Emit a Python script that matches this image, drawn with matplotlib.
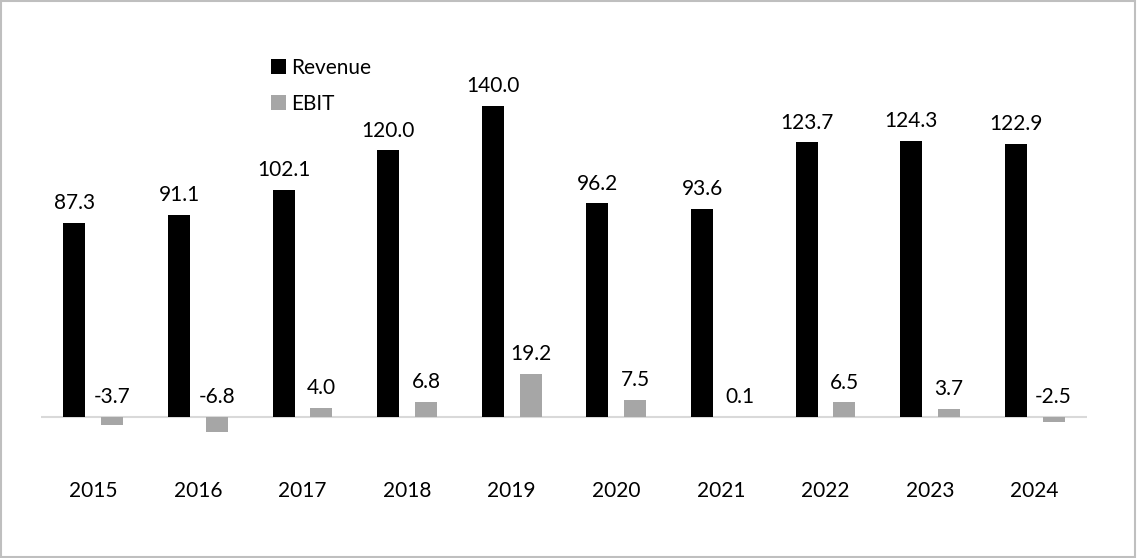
import numpy as np
import matplotlib.pyplot as plt
from matplotlib.patches import Rectangle

plt.rcParams['font.family'] = ['Lato', 'DejaVu Sans']

years = ['2015', '2016', '2017', '2018', '2019', '2020', '2021', '2022', '2023', '2024']
revenue = [87.3, 91.1, 102.1, 120.0, 140.0, 96.2, 93.6, 123.7, 124.3, 122.9]
ebit = [-3.7, -6.8, 4.0, 6.8, 19.2, 7.5, 0.1, 6.5, 3.7, -2.5]

W, H = 1137, 558
fig = plt.figure(figsize=(W / 100, H / 100), dpi=100)
# axes placed in pixels: x 41..1087, y 30..462 (from top), zero line near y=417
ax = fig.add_axes([41 / W, 1 - 462 / H, (1087 - 41) / W, (462 - 30) / H])

x = np.arange(len(years))
bw = 0.21
off = 0.18
b1 = ax.bar(x - off, revenue, bw, color='black', label='Revenue', zorder=3)
b2 = ax.bar(x + off, ebit, bw, color='#a6a6a6', label='EBIT', zorder=3)
ax.axhline(0, color='#d9d9d9', lw=1.5, zorder=2)

for xi, v in zip(x, revenue):
    ax.annotate('%.1f' % v, (xi - off, v), xytext=(0, 7), textcoords='offset points',
                ha='center', va='bottom', fontsize=15)
for xi, v in zip(x, ebit):
    ax.annotate('%.1f' % v, (xi + off, max(v, 0)), xytext=(0, 7), textcoords='offset points',
                ha='center', va='bottom', fontsize=15)

ax.set_xlim(-0.5, 9.5)
ax.set_ylim(-20.4, 174.3)
ax.set_xticks(x)
ax.set_xticklabels(years, fontsize=15)
ax.tick_params(axis='x', length=0, pad=14)
ax.set_yticks([])
for s in ax.spines.values():
    s.set_visible(False)

fig.legend(handles=[b1, b2], loc='upper left', bbox_to_anchor=(271 / W, 1 - 58 / H),
           frameon=False, fontsize=15, handlelength=0.7, handleheight=0.7,
           handletextpad=0.25, labelspacing=0.75, borderpad=0, borderaxespad=0)

fig.patches.append(Rectangle((0.001, 0.001), 0.997, 0.997, transform=fig.transFigure,
                             fill=False, edgecolor='#bfbfbf', lw=1.5))

plt.savefig('out.png', dpi=100)
